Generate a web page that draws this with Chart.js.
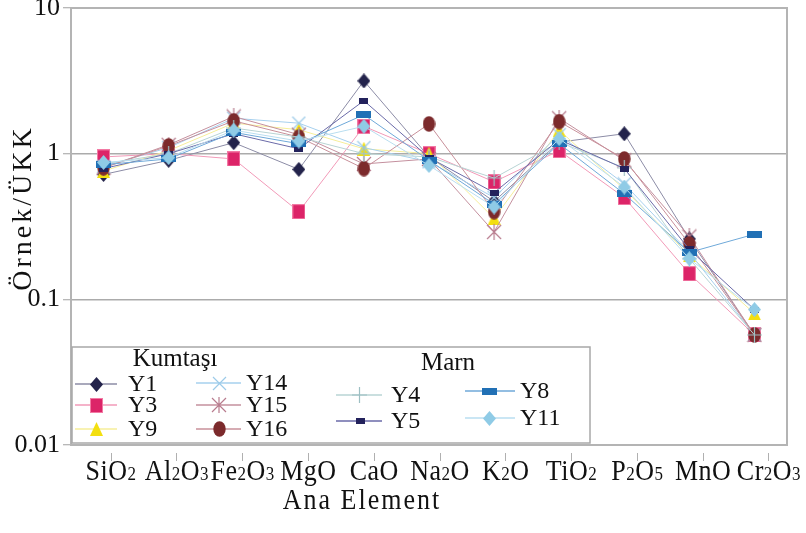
<!DOCTYPE html>
<html>
<head>
<meta charset="utf-8">
<script src="https://cdn.jsdelivr.net/npm/chart.js"></script>
<style>
  html, body { margin: 0; padding: 0; background: #fff; }
  #wrap { width: 806px; height: 533px; }
</style>
</head>
<body>
<div id="wrap"><canvas id="chart" width="806" height="533"></canvas></div>
<script>
// values (log scale, sample / UCC)
const categories = ['SiO2', 'Al2O3', 'Fe2O3', 'MgO', 'CaO', 'Na2O', 'K2O', 'TiO2', 'P2O5', 'MnO', 'Cr2O3'];
const yTicks = [10, 1, 0.1, 0.01];
const seriesNames = ['Y1', 'Y3', 'Y9', 'Y14', 'Y15', 'Y16', 'Y4', 'Y5', 'Y8', 'Y11'];

const y1  = [0.72, 0.90, 1.19, 0.78, 3.16, 0.95, 0.47, 1.20, 1.37, 0.26, 0.057];
const y3  = [0.95, 1.00, 0.92, 0.40, 1.54, 1.00, 0.64, 1.05, 0.50, 0.15, 0.057];
const y9  = [0.76, 1.05, 1.62, 1.46, 1.08, 1.00, 0.36, 1.45, 0.57, 0.20, 0.080];
const y14 = [0.82, 1.10, 1.75, 1.62, 1.10, 0.88, 0.50, 1.35, 0.62, 0.21, 0.057];
const y15 = [0.80, 1.15, 1.80, 1.35, 0.85, 0.92, 0.29, 1.75, 0.90, 0.27, 0.057];
const y16 = [0.80, 1.13, 1.68, 1.30, 0.79, 1.60, 0.40, 1.66, 0.92, 0.24, 0.057];
const y4  = [0.85, 1.00, 1.50, 1.30, 1.00, 0.95, 0.68, 1.20, 0.80, 0.19, 0.057];
const y5  = [0.79, 1.00, 1.37, 1.08, 2.31, 0.94, 0.54, 1.25, 0.79, 0.22, 0.085];
const y8  = [0.84, 0.92, 1.40, 1.17, 1.85, 0.90, 0.45, 1.17, 0.53, 0.21, 0.28];
const y11 = [0.87, 0.94, 1.45, 1.22, 1.54, 0.83, 0.43, 1.27, 0.59, 0.19, 0.085];

const seriesValues = [y1, y3, y9, y14, y15, y16, y4, y5, y8, y11];

const FONT = '"Liberation Serif", "DejaVu Serif", serif';

// marker images
function mk(w, h, fn) {
  const c = document.createElement('canvas');
  c.width = w; c.height = h;
  fn(c.getContext('2d'), w, h);
  return c;
}
const diamond = (fill) => (g, w, h) => {
  g.fillStyle = fill;
  g.beginPath(); g.moveTo(w / 2, 0); g.lineTo(w, h / 2); g.lineTo(w / 2, h); g.lineTo(0, h / 2); g.closePath(); g.fill();
};
const box = (fill, edge) => (g, w, h) => {
  g.fillStyle = fill; g.fillRect(0, 0, w, h);
  if (edge) { g.strokeStyle = edge; g.lineWidth = 1; g.strokeRect(0.5, 0.5, w - 1, h - 1); }
};
const tri = (fill) => (g, w, h) => {
  g.fillStyle = fill;
  g.beginPath(); g.moveTo(w / 2, 0); g.lineTo(w, h); g.lineTo(0, h); g.closePath(); g.fill();
};
const ell = (fill) => (g, w, h) => {
  g.fillStyle = fill;
  g.beginPath(); g.ellipse(w / 2, h / 2, w / 2 - 0.3, h / 2 - 0.3, 0, 0, Math.PI * 2); g.fill();
};
const strokes = (col, x, plus) => (g, w, h) => {
  g.strokeStyle = col; g.lineWidth = 1.2; g.beginPath();
  if (x) { g.moveTo(1, 1); g.lineTo(w - 1, h - 1); g.moveTo(w - 1, 1); g.lineTo(1, h - 1); }
  if (plus) { g.moveTo(w / 2, 0); g.lineTo(w / 2, h); if (plus === 2) { g.moveTo(0, h / 2); g.lineTo(w, h / 2); } }
  g.stroke();
};

const markers = [
  mk(13, 15, diamond('#23234b')),
  mk(13, 15, box('#dc2468', '#f27aa4')),
  mk(13, 14, tri('#f3df10')),
  mk(15, 15, strokes('#9ccbe9', true, 0)),
  mk(16, 16, strokes('#b87c8e', true, 1)),
  mk(13, 16, ell('#7c2a2c')),
  mk(15, 16, strokes('#9dbfc3', false, 2)),
  mk(9, 6, box('#23225c')),
  mk(15, 7, box('#2170b5')),
  mk(13, 15, diamond('#8fcbe6'))
];
const lineColors = ['#8c8ca6', '#f29ab8', '#f6ee9a', '#a6d0ee', '#c4909e', '#c8909a', '#b8d4d4', '#6a6aa8', '#6fa9d9', '#b9def0'];

const datasets = seriesNames.map((name, i) => ({
  label: name,
  data: seriesValues[i],
  borderColor: lineColors[i],
  backgroundColor: lineColors[i],
  borderWidth: 1,
  pointStyle: markers[i],
  pointRadius: 6,
  tension: 0,
  order: seriesNames.length - i
}));

// legend layout: [lineStart, lineEnd, markerX, y, textX]
const legendPos = [
  [75, 117, 96, 384, 128],
  [75, 117, 96, 405, 128],
  [75, 117, 96, 429, 128],
  [196, 241, 219, 383, 246],
  [196, 241, 219, 405, 246],
  [196, 241, 219, 429, 246],
  [336, 382, 359, 395, 391],
  [336, 382, 360, 421, 391],
  [465, 515, 489, 391, 520],
  [465, 515, 489, 418, 520]
];

const decorPlugin = {
  id: 'decor',
  beforeDatasetsDraw(chart) {
    const { ctx, chartArea: a } = chart;
    ctx.save();
    ctx.strokeStyle = '#b4b4b4';
    ctx.lineWidth = 2;
    ctx.strokeRect(a.left, a.top, a.right - a.left, a.bottom - a.top);
    ctx.restore();
  },
  afterDraw(chart) {
    const { ctx } = chart;
    const x2 = chart.scales.x2;
    ctx.save();
    ctx.fillStyle = '#111';
    ctx.textBaseline = 'alphabetic';
    ctx.letterSpacing = '0.5px';
    // category labels with small digits, slightly tall glyphs like the original
    categories.forEach((lab, i) => {
      const parts = lab.match(/\d+|\D+/g);
      let w = 0;
      parts.forEach(p => { ctx.font = (/\d/.test(p) ? '17px ' : '26px ') + FONT; w += ctx.measureText(p).width; });
      let x = x2.getPixelForValue(i) - w / 2;
      ctx.save();
      ctx.translate(0, 480);
      ctx.scale(1, 1.12);
      parts.forEach(p => {
        ctx.font = (/\d/.test(p) ? '17px ' : '26px ') + FONT;
        ctx.textAlign = 'left';
        ctx.fillText(p, x, 0);
        x += ctx.measureText(p).width;
      });
      ctx.restore();
    });
    // axis titles
    ctx.font = '26px ' + FONT;
    ctx.letterSpacing = '2px';
    ctx.textAlign = 'center';
    ctx.save();
    ctx.translate(362, 509);
    ctx.scale(1, 1.12);
    ctx.fillText('Ana Element', 0, 0);
    ctx.restore();
    ctx.save();
    ctx.translate(31, 208);
    ctx.rotate(-Math.PI / 2);
    ctx.font = '28px ' + FONT;
    ctx.letterSpacing = '3px';
    ctx.fillText('Örnek/ÜKK', 0, 0);
    ctx.restore();
    ctx.letterSpacing = '0px';

    // legend
    ctx.fillStyle = '#fff';
    ctx.fillRect(72, 347, 518, 96);
    ctx.strokeStyle = '#a8a8a8';
    ctx.lineWidth = 1.5;
    ctx.strokeRect(72, 347, 518, 96);
    ctx.fillStyle = '#111';
    ctx.font = '25px ' + FONT;
    ctx.textAlign = 'center';
    ctx.textBaseline = 'middle';
    ctx.fillText('Kumtaşı', 175, 359);
    ctx.fillText('Marn', 448, 363);
    ctx.font = '24px ' + FONT;
    ctx.textAlign = 'left';
    seriesNames.forEach((name, i) => {
      const [l1, l2, mx, y, tx] = legendPos[i];
      ctx.strokeStyle = lineColors[i];
      ctx.lineWidth = 1.5;
      ctx.beginPath(); ctx.moveTo(l1, y); ctx.lineTo(l2, y); ctx.stroke();
      const m = markers[i];
      ctx.drawImage(m, Math.round(mx - m.width / 2), Math.round(y - m.height / 2));
      ctx.fillText(name, tx, y + 1);
    });
    ctx.restore();
  }
};

new Chart(document.getElementById('chart'), {
  type: 'line',
  data: { labels: categories, datasets },
  options: {
    responsive: false,
    animation: false,
    devicePixelRatio: 1,
    layout: { padding: { top: 8, right: 19, left: 0, bottom: 0 } },
    plugins: { legend: { display: false }, tooltip: { enabled: false } },
    scales: {
      x: { type: 'category', display: false, offset: true },
      x2: {
        type: 'linear',
        position: 'bottom',
        min: -0.609,
        max: 10.274,
        afterBuildTicks: (s) => { s.ticks = categories.map((c, i) => ({ value: i })); },
        afterFit: (s) => { s.height = 88; s.paddingLeft = 0; s.paddingRight = 0; },
        border: { display: false },
        grid: {
          drawOnChartArea: false,
          drawTicks: true,
          tickLength: 16,
          tickColor: '#b0b0b0',
          tickWidth: 1,
          tickBorderDash: [0, 8, 8, 40]
        },
        ticks: { display: false }
      },
      y: {
        type: 'logarithmic',
        min: 0.01,
        max: 10,
        afterBuildTicks: (s) => { s.ticks = yTicks.map(v => ({ value: v, major: true })); },
        afterFit: (s) => { s.width = 71; s.paddingTop = 0; s.paddingBottom = 0; },
        border: { display: false },
        grid: { color: '#ababab', lineWidth: 1.5, tickLength: 8, tickColor: '#a0a0a0', tickWidth: 1 },
        ticks: {
          font: { family: FONT, size: 26 },
          color: '#111',
          padding: 3,
          autoSkip: false,
          callback: (v) => String(v)
        }
      }
    }
  },
  plugins: [decorPlugin]
});
</script>
</body>
</html>
